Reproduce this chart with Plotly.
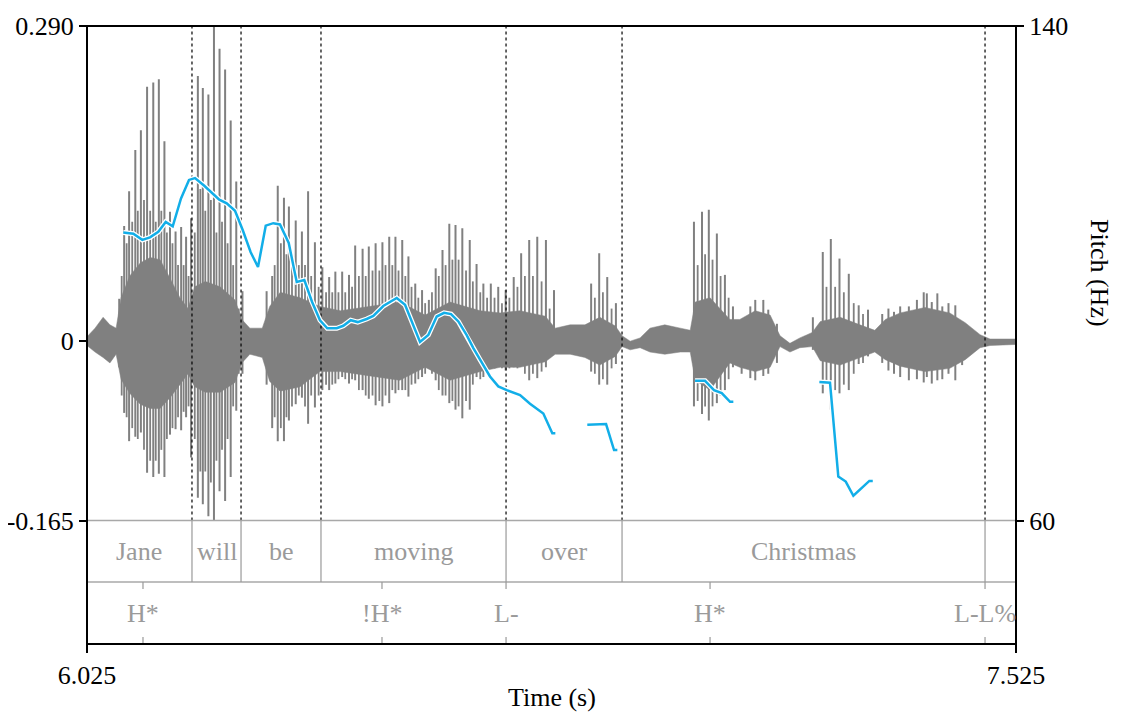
import plotly.graph_objects as go

# ---------------- data ----------------
T_START, T_END = 6.025, 7.525
AMP_MIN, AMP_MAX = -0.165, 0.290
PITCH_MIN, PITCH_MAX = 60, 140

# word tier (interval boundaries and labels)
word_bounds = [6.025, 6.1945, 6.2737, 6.4028, 6.7016, 6.8889, 7.4750, 7.525]
word_labels = ["Jane", "will", "be", "moving", "over", "Christmas", ""]

# tone tier (points)
tone_times = [6.1154, 6.5013, 6.7016, 7.0310, 7.4750]
tone_labels = ["H*", "!H*", "L-", "H*", "L-L%"]

# waveform: glottal pulses / spikes (time, max, min)
pulse_t = [6.077, 6.085, 6.093, 6.103, 6.112, 6.122, 6.132, 6.141, 6.150, 6.159, 6.168, 6.177, 6.185, 6.193,
           6.204, 6.212, 6.221, 6.230, 6.239, 6.248, 6.257, 6.266, 6.276,
           6.315, 6.324, 6.333, 6.343, 6.351, 6.362, 6.372, 6.382, 6.393, 6.405,
           6.416, 6.426, 6.437, 6.448, 6.458, 6.470, 6.480, 6.491, 6.502, 6.513, 6.523, 6.534, 6.544,
           6.555, 6.566, 6.577, 6.588, 6.599, 6.610, 6.620, 6.631, 6.643, 6.654, 6.665, 6.677, 6.689,
           6.701, 6.714, 6.726, 6.739, 6.752, 6.766, 6.779,
           6.839, 6.852, 6.865, 6.879,
           7.005, 7.018, 7.029, 7.042, 7.055, 7.068,
           7.082, 7.096, 7.104, 7.117, 7.125, 7.139,
           7.197, 7.213, 7.226, 7.240, 7.255, 7.271, 7.286,
           7.309, 7.319, 7.328, 7.338, 7.352, 7.365, 7.376, 7.381, 7.389, 7.398, 7.406, 7.416, 7.427, 7.438]
pulse_max = [0.039, 0.106, 0.138, 0.176, 0.194, 0.234, 0.238, 0.241, 0.184, 0.119, 0.101, 0.105, 0.096, 0.113,
             0.244, 0.233, 0.227, 0.290, 0.269, 0.250, 0.203, 0.147, 0.046,
             0.046, 0.060, 0.143, 0.132, 0.124, 0.111, 0.101, 0.138, 0.091, 0.068,
             0.059, 0.064, 0.064, 0.061, 0.088, 0.085, 0.087, 0.090, 0.091, 0.096, 0.096, 0.093, 0.078,
             0.053, 0.047, 0.038, 0.067, 0.084, 0.108, 0.107, 0.104, 0.093, 0.071, 0.053, 0.053, 0.050,
             0.047, 0.059, 0.081, 0.093, 0.096, 0.093, 0.047,
             0.053, 0.081, 0.059, 0.035,
             0.110, 0.119, 0.121, 0.099, 0.061, 0.032,
             0.018, 0.032, 0.038, 0.038, 0.029, 0.016,
             0.022, 0.082, 0.094, 0.076, 0.062, 0.033, 0.029,
             0.025, 0.030, 0.027, 0.032, 0.032, 0.038, 0.045, 0.044, 0.036, 0.044, 0.032, 0.035, 0.033, 0.016]
pulse_min = [-0.024, -0.066, -0.092, -0.088, -0.084, -0.121, -0.125, -0.122, -0.125, -0.086, -0.081, -0.082, -0.070, -0.107,
             -0.144, -0.150, -0.161, -0.165, -0.138, -0.147, -0.125, -0.064, -0.030,
             -0.040, -0.080, -0.092, -0.092, -0.073, -0.058, -0.052, -0.076, -0.061, -0.045,
             -0.045, -0.039, -0.033, -0.039, -0.036, -0.045, -0.053, -0.059, -0.060, -0.057, -0.048, -0.045, -0.051,
             -0.039, -0.033, -0.021, -0.036, -0.050, -0.057, -0.063, -0.071, -0.063, -0.033, -0.033, -0.024, -0.021,
             -0.027, -0.024, -0.021, -0.036, -0.034, -0.024, -0.011,
             -0.028, -0.040, -0.040, -0.021,
             -0.060, -0.067, -0.073, -0.057, -0.045, -0.024,
             -0.030, -0.034, -0.036, -0.032, -0.030, -0.020,
             -0.008, -0.048, -0.063, -0.048, -0.045, -0.021, -0.014,
             -0.020, -0.027, -0.030, -0.033, -0.036, -0.035, -0.038, -0.033, -0.039, -0.036, -0.035, -0.030, -0.036, -0.022]

# waveform: secondary (smaller) strokes between the main pulses
minor_t = [6.081, 6.089, 6.098, 6.107, 6.117, 6.127, 6.136, 6.145, 6.154, 6.163, 6.172, 6.181, 6.189,
           6.199, 6.208, 6.216, 6.225, 6.234, 6.243, 6.252, 6.261, 6.270,
           6.328, 6.338, 6.347, 6.356, 6.367, 6.377, 6.387, 6.399,
           6.411, 6.421, 6.431, 6.442, 6.453, 6.464, 6.475, 6.486, 6.497, 6.507, 6.518, 6.528, 6.539, 6.549,
           6.560, 6.571, 6.582, 6.593, 6.604, 6.615, 6.625, 6.637, 6.648, 6.660, 6.671, 6.683, 6.695,
           6.707, 6.720, 6.732, 6.745, 6.759, 6.772, 6.845, 6.858, 6.872,
           7.011, 7.023, 7.035, 7.048, 7.061,
           7.219, 7.233, 7.247, 7.263, 7.278]
minor_max = [0.060, 0.090, 0.110, 0.120, 0.130, 0.120, 0.110, 0.120, 0.100, 0.090, 0.070, 0.070, 0.060,
             0.100, 0.140, 0.120, 0.130, 0.100, 0.110, 0.090, 0.070, 0.030,
             0.070, 0.090, 0.080, 0.080, 0.070, 0.070, 0.060, 0.050,
             0.045, 0.045, 0.045, 0.045, 0.050, 0.060, 0.060, 0.065, 0.065, 0.070, 0.070, 0.065, 0.060, 0.050,
             0.040, 0.035, 0.045, 0.060, 0.070, 0.075, 0.075, 0.065, 0.055, 0.045, 0.040, 0.040, 0.035,
             0.040, 0.050, 0.060, 0.060, 0.055, 0.030, 0.040, 0.045, 0.030,
             0.070, 0.080, 0.075, 0.060, 0.040,
             0.050, 0.050, 0.045, 0.035, 0.025]
minor_min = [-0.050, -0.070, -0.080, -0.090, -0.100, -0.110, -0.110, -0.100, -0.090, -0.080, -0.070, -0.065, -0.060,
             -0.090, -0.120, -0.120, -0.130, -0.110, -0.100, -0.090, -0.060, -0.030,
             -0.070, -0.080, -0.070, -0.060, -0.050, -0.060, -0.050, -0.050,
             -0.040, -0.040, -0.035, -0.035, -0.035, -0.045, -0.050, -0.050, -0.055, -0.050, -0.045, -0.045, -0.045, -0.040,
             -0.035, -0.030, -0.030, -0.045, -0.050, -0.055, -0.060, -0.055, -0.040, -0.035, -0.030, -0.025, -0.025,
             -0.025, -0.025, -0.030, -0.030, -0.028, -0.015, -0.030, -0.035, -0.025,
             -0.055, -0.060, -0.060, -0.050, -0.035,
             -0.040, -0.045, -0.040, -0.030, -0.020]

# waveform: dense core envelope (time, upper, lower)
core_t = [6.025, 6.038, 6.051, 6.062, 6.072, 6.080, 6.094, 6.111, 6.127, 6.143, 6.159, 6.175, 6.188, 6.199,
          6.216, 6.240, 6.264, 6.275, 6.288, 6.308, 6.320, 6.337, 6.369, 6.401, 6.434, 6.482, 6.530, 6.571,
          6.611, 6.660, 6.692, 6.724, 6.765, 6.781, 6.805, 6.829, 6.853, 6.878, 6.889, 6.902, 6.918, 6.934,
          6.958, 6.983, 6.999, 7.007, 7.031, 7.063, 7.079, 7.104, 7.128, 7.144, 7.160, 7.176, 7.196, 7.209,
          7.241, 7.273, 7.297, 7.314, 7.338, 7.378, 7.418, 7.443, 7.467, 7.483, 7.525]
core_hi = [0.004, 0.012, 0.022, 0.015, 0.012, 0.040, 0.060, 0.072, 0.077, 0.075, 0.058, 0.040, 0.030, 0.050,
           0.055, 0.050, 0.038, 0.020, 0.012, 0.012, 0.032, 0.045, 0.040, 0.032, 0.028, 0.032, 0.036, 0.024,
           0.036, 0.028, 0.026, 0.028, 0.023, 0.012, 0.015, 0.015, 0.022, 0.014, 0.005, 0.000, 0.003, 0.012,
           0.015, 0.012, 0.010, 0.036, 0.040, 0.020, 0.020, 0.028, 0.024, 0.005, -0.002, 0.003, 0.008, 0.018,
           0.022, 0.015, 0.010, 0.020, 0.026, 0.031, 0.026, 0.017, 0.006, 0.002, 0.002]
core_lo = [-0.004, -0.010, -0.015, -0.020, -0.012, -0.035, -0.048, -0.058, -0.062, -0.062, -0.052, -0.040, -0.030, -0.042,
           -0.047, -0.047, -0.038, -0.020, -0.012, -0.015, -0.037, -0.046, -0.042, -0.028, -0.028, -0.032, -0.036, -0.024,
           -0.036, -0.028, -0.024, -0.024, -0.019, -0.012, -0.012, -0.015, -0.022, -0.014, -0.005, -0.008, -0.006, -0.010,
           -0.012, -0.010, -0.010, -0.036, -0.045, -0.020, -0.024, -0.028, -0.024, -0.005, -0.010, -0.006, -0.005, -0.018,
           -0.022, -0.015, -0.010, -0.017, -0.023, -0.028, -0.025, -0.017, -0.006, -0.004, -0.003]

# pitch contour (Hz), voiced stretches
pitch_t1 = [6.0836, 6.0998, 6.1143, 6.1267, 6.1401, 6.1521, 6.1634, 6.1768, 6.1897, 6.1994, 6.2139, 6.2289,
            6.2386, 6.2506, 6.2640, 6.2764, 6.2893, 6.3011, 6.3136, 6.3258, 6.3366, 6.3507, 6.3636, 6.3759,
            6.3883, 6.4012, 6.4130, 6.4282, 6.4389, 6.4508, 6.4621, 6.4766, 6.4873, 6.5034, 6.5251, 6.5385,
            6.5493, 6.5627, 6.5761, 6.5897, 6.6015, 6.6128, 6.6246, 6.6381, 6.6488, 6.6596, 6.6757, 6.6891,
            6.7027, 6.7242, 6.7403, 6.7618, 6.7763, 6.7812]
pitch_hz1 = [106.6, 106.4, 105.4, 105.8, 106.7, 108.3, 107.6, 112.1, 115.1, 115.4, 114.2, 112.7,
             111.9, 111.3, 110.1, 107.0, 103.4, 101.0, 107.7, 108.1, 107.9, 104.9, 98.6, 98.9,
             95.4, 92.4, 91.1, 91.1, 91.5, 92.4, 92.1, 92.6, 93.1, 94.7, 96.0, 94.9,
             92.2, 88.9, 90.0, 93.0, 93.6, 93.4, 92.2, 90.0, 87.9, 86.0, 83.3, 81.7,
             81.1, 80.3, 78.9, 77.3, 74.1, 74.1]
pitch_t2 = [6.8328, 6.8631, 6.8760, 6.8813]
pitch_hz2 = [75.5, 75.6, 71.4, 71.4]
pitch_t3 = [7.0068, 7.0229, 7.0374, 7.0499, 7.0633, 7.0686]
pitch_hz3 = [82.6, 82.6, 81.1, 80.6, 79.2, 79.2]
pitch_t4 = [7.2075, 7.2247, 7.2381, 7.2501, 7.2624, 7.2882, 7.2937]
pitch_hz4 = [82.4, 82.3, 67.1, 66.3, 64.0, 66.4, 66.4]

# ---------------- layout constants ----------------
# the page body has an 8px margin, so the figure is offset by 8px
OFF = 8
W, H = 1125 - OFF, 713 - OFF
ML, MR, MT, MB = 87 - OFF, 109, 26 - OFF, 69
PLOT_TOP, PLOT_BOTTOM = 26, 644          # screen rows of the frame
PLOT_H = PLOT_BOTTOM - PLOT_TOP


def py(pix):  # screen row -> paper y
    return (PLOT_BOTTOM - pix) / PLOT_H


WAVE_BOTTOM = py(520.5)
TIER_SPLIT = py(582)
FONT = "Liberation Serif, Times New Roman, serif"
FS = 26
GRAY_TXT = "#9a9a9a"
WAVE_COL = "#808080"
PITCH_COL = "#12aee8"

fig = go.Figure()

# core waveform body
fig.add_trace(go.Scatter(
    x=core_t + core_t[::-1], y=core_hi + core_lo[::-1],
    fill="toself", fillcolor=WAVE_COL, line=dict(color=WAVE_COL, width=0.5),
    mode="lines", hoverinfo="skip", showlegend=False, xaxis="x", yaxis="y"))

# secondary strokes
mx, myv = [], []
for t, hi, lo in zip(minor_t, minor_max, minor_min):
    mx += [t, t, None]
    myv += [lo, hi, None]
fig.add_trace(go.Scatter(x=mx, y=myv, mode="lines", line=dict(color=WAVE_COL, width=1.8),
                         hoverinfo="skip", showlegend=False, xaxis="x", yaxis="y"))

# pulses as vertical strokes
px, pyv = [], []
for t, hi, lo in zip(pulse_t, pulse_max, pulse_min):
    px += [t, t, None]
    pyv += [lo, hi, None]
fig.add_trace(go.Scatter(x=px, y=pyv, mode="lines", line=dict(color=WAVE_COL, width=2),
                         hoverinfo="skip", showlegend=False, xaxis="x", yaxis="y"))

# dotted word boundaries through waveform
dx, dy = [], []
for b in word_bounds[1:-1]:
    dx += [b, b, None]
    dy += [AMP_MIN, AMP_MAX, None]
fig.add_trace(go.Scatter(x=dx, y=dy, mode="lines", line=dict(color="black", width=1.2, dash="dot"),
                         hoverinfo="skip", showlegend=False, xaxis="x", yaxis="y"))

# pitch contour with white halo
for tt, hh in [(pitch_t1, pitch_hz1), (pitch_t2, pitch_hz2), (pitch_t3, pitch_hz3), (pitch_t4, pitch_hz4)]:
    fig.add_trace(go.Scatter(x=tt, y=hh, mode="lines", line=dict(color="white", width=5),
                             hoverinfo="skip", showlegend=False, xaxis="x", yaxis="y2"))
    fig.add_trace(go.Scatter(x=tt, y=hh, mode="lines", line=dict(color=PITCH_COL, width=2.5),
                             hoverinfo="skip", showlegend=False, xaxis="x", yaxis="y2"))

shapes = []
annotations = []
TIER_LINE = "#a8a8a8"
# tier horizontal lines
for yy in [WAVE_BOTTOM, TIER_SPLIT]:
    shapes.append(dict(type="line", xref="paper", yref="paper", x0=0, x1=1, y0=yy, y1=yy,
                       line=dict(color=TIER_LINE, width=1.5)))
# word boundaries in tier 1
for b in word_bounds[1:-1]:
    shapes.append(dict(type="line", xref="x", yref="paper", x0=b, x1=b, y0=TIER_SPLIT, y1=WAVE_BOTTOM,
                       line=dict(color="#999999", width=1.2)))
# word labels
for i, lab in enumerate(word_labels):
    if not lab:
        continue
    mid = (word_bounds[i] + word_bounds[i + 1]) / 2
    annotations.append(dict(x=mid, y=py(551), xref="x", yref="paper", text=lab, showarrow=False,
                            font=dict(family=FONT, size=FS, color=GRAY_TXT), xanchor="center", yanchor="middle"))
# tone points
tick_h = 7 / PLOT_H
for t, lab in zip(tone_times, tone_labels):
    shapes.append(dict(type="line", xref="x", yref="paper", x0=t, x1=t, y0=TIER_SPLIT, y1=TIER_SPLIT - tick_h,
                       line=dict(color="#999999", width=1.2)))
    shapes.append(dict(type="line", xref="x", yref="paper", x0=t, x1=t, y0=0, y1=tick_h,
                       line=dict(color="#999999", width=1.2)))
    annotations.append(dict(x=t, y=py(613), xref="x", yref="paper", text=lab, showarrow=False,
                            font=dict(family=FONT, size=FS, color=GRAY_TXT), xanchor="center", yanchor="middle"))
# frame
shapes.append(dict(type="rect", xref="paper", yref="paper", x0=0, x1=1, y0=0, y1=1,
                   line=dict(color="black", width=2)))

# axis titles
annotations.append(dict(x=0.5, y=py(697), xref="paper", yref="paper", text="Time (s)", showarrow=False,
                        font=dict(family=FONT, size=FS, color="black"), xanchor="center", yanchor="middle"))
annotations.append(dict(x=1, y=py(273), xref="paper", yref="paper", text="Pitch (Hz)", showarrow=False,
                        textangle=90, xshift=84, font=dict(family=FONT, size=FS, color="black"),
                        xanchor="center", yanchor="middle"))

fig.update_layout(
    width=W, height=H,
    margin=dict(l=ML, r=MR, t=MT, b=MB, autoexpand=False),
    paper_bgcolor="white", plot_bgcolor="white",
    showlegend=False,
    font=dict(family=FONT, size=FS, color="black"),
    xaxis=dict(range=[T_START, T_END], domain=[0, 1], anchor="free", position=0,
               showgrid=False, zeroline=False, showline=False,
               tickmode="array", tickvals=[T_START, T_END], ticktext=["6.025", "7.525"],
               ticks="outside", ticklen=8, tickwidth=2, tickcolor="black",
               tickfont=dict(family=FONT, size=FS, color="black")),
    yaxis=dict(range=[AMP_MIN, AMP_MAX], domain=[WAVE_BOTTOM, 1], anchor="x",
               showgrid=False, zeroline=False, showline=False,
               tickmode="array", tickvals=[AMP_MIN, 0, AMP_MAX], ticktext=["-0.165", "0", "0.290"],
               ticks="outside", ticklen=7, tickwidth=2, tickcolor="black",
               tickfont=dict(family=FONT, size=FS, color="black")),
    yaxis2=dict(range=[PITCH_MIN, PITCH_MAX], domain=[WAVE_BOTTOM, 1], overlaying="y", side="right", anchor="x",
                showgrid=False, zeroline=False, showline=False,
                tickmode="array", tickvals=[PITCH_MIN, PITCH_MAX], ticktext=["60", "140"],
                ticks="outside", ticklen=7, tickwidth=2, tickcolor="black",
                tickfont=dict(family=FONT, size=FS, color="black")),
    shapes=shapes,
    annotations=annotations,
)

fig.write_html("out.html")
